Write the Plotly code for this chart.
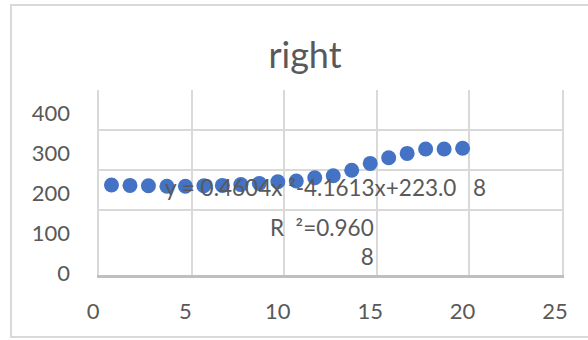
import plotly.graph_objects as go

# Series values
x_vals = [1, 2, 3, 4, 5, 6, 7, 8, 9, 10, 11, 12, 13, 14, 15, 16, 17, 18, 19, 20]
y_vals = [220, 219, 218, 217, 217, 218, 219, 221, 224, 228, 230, 238, 243, 257, 274, 288, 299, 310, 310, 312]

# Axis ticks
x_ticks = [0, 5, 10, 15, 20, 25]
y_ticks = [0, 100, 200, 300, 400]
grid_x = [5, 10, 15, 20, 25]
grid_y = [100, 200, 300, 400]

title_text = "right"
eq_text = "y = 0.4604x ²-4.1613x+223.0"
eq_tail = "8"
r2_text = "R  ²=0.960<br>8"

W, H = 588, 340
FONT = "Lato"
TXT = "#595959"
BLUE = "#4472C4"


def px_x(p):
    return p / W


def px_y(p):
    return 1 - p / H


fig = go.Figure()

# Background grid block (drawn first, underneath the points)
fig.add_trace(go.Scatter(x=[], y=[], xaxis="x", yaxis="y", showlegend=False))

# Data points
fig.add_trace(go.Scatter(
    x=x_vals, y=y_vals, mode="markers", xaxis="x2", yaxis="y2",
    marker=dict(color=BLUE, size=15, line=dict(width=0)),
    showlegend=False, hoverinfo="x+y",
))

fig.update_layout(
    template="none",
    width=W, height=H, autosize=False,
    margin=dict(l=0, r=0, t=0, b=0, pad=0),
    paper_bgcolor="white", plot_bgcolor="rgba(0,0,0,0)",
    showlegend=False,
    font=dict(family=FONT, color=TXT),
    title=dict(text=title_text, x=px_x(305), y=px_y(55), xanchor="center", yanchor="middle",
               xref="paper", yref="container", automargin=False,
               font=dict(family=FONT, size=36, color=TXT)),
    xaxis=dict(
        domain=[px_x(99), px_x(562)], range=[0, 25], anchor="y", automargin=False,
        tickmode="array", tickvals=grid_x, showticklabels=False, ticks="",
        showgrid=True, gridcolor="#D9D9D9", gridwidth=2,
        showline=True, linecolor="#BFBFBF", linewidth=2.5, zeroline=False,
        fixedrange=True,
    ),
    yaxis=dict(
        domain=[px_y(275), px_y(90)], range=[-62.5, 400], anchor="x", automargin=False,
        tickmode="array", tickvals=grid_y, showticklabels=False, ticks="",
        showgrid=True, gridcolor="#D9D9D9", gridwidth=2,
        showline=True, mirror=True, linecolor="#D9D9D9", linewidth=2, zeroline=False,
        fixedrange=True,
    ),
    xaxis2=dict(
        domain=[px_x(93), px_x(555)], range=[0, 25], anchor="y2", automargin=False,
        tickmode="array", tickvals=x_ticks, showgrid=False, zeroline=False, showline=False,
        ticks="", ticklabelstandoff=23,
        tickfont=dict(family=FONT, size=22, color=TXT),
        fixedrange=True,
    ),
    yaxis2=dict(
        domain=[px_y(273), px_y(113)], range=[0, 400], anchor="x2", automargin=False,
        tickmode="array", tickvals=y_ticks, showgrid=False, zeroline=False, showline=False,
        ticks="", ticklabelstandoff=22,
        tickfont=dict(family=FONT, size=22, color=TXT),
        fixedrange=True,
    ),
    shapes=[dict(type="rect", xref="paper", yref="paper",
                 x0=px_x(11), x1=1.02, y0=px_y(337), y1=px_y(5),
                 line=dict(color="#D9D9D9", width=2), fillcolor="rgba(0,0,0,0)", layer="below")],
    annotations=[
        dict(text=eq_text, xref="paper", yref="paper", x=px_x(163), y=px_y(187),
             xanchor="left", yanchor="middle", showarrow=False,
             font=dict(family=FONT, size=22.5, color=TXT)),
        dict(text=eq_tail, xref="paper", yref="paper", x=px_x(471), y=px_y(187),
             xanchor="left", yanchor="middle", showarrow=False,
             font=dict(family=FONT, size=22.5, color=TXT)),
        dict(text=r2_text, xref="paper", yref="paper", x=px_x(376), y=px_y(242),
             xanchor="right", yanchor="middle", align="right", showarrow=False,
             font=dict(family=FONT, size=22.5, color=TXT)),
    ],
)

fig.write_html("out.html", config={"responsive": False, "displayModeBar": False})
